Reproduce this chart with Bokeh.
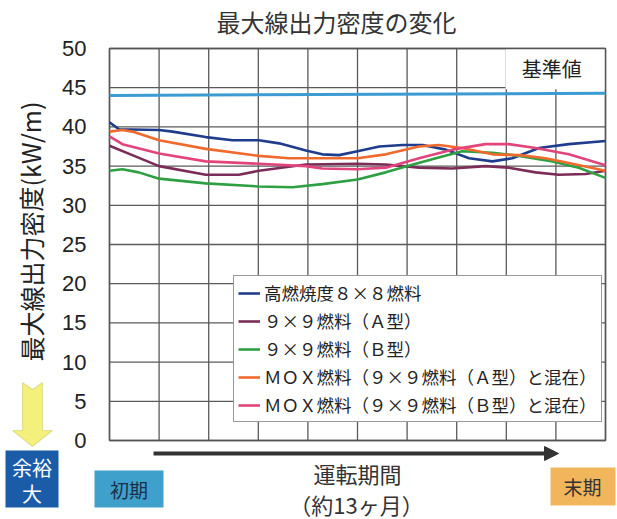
from bokeh.plotting import figure
from bokeh.models import (Range1d, FixedTicker, Label, Legend, LegendItem, Arrow,
                          NormalHead, PolyAnnotation)
from bokeh.embed import file_html
from bokeh.resources import INLINE

# ---- data (x = operating period, 10 grid divisions from start to end) ----
series_names = ["高燃焼度８×８燃料", "９×９燃料（Ａ型）", "９×９燃料（Ｂ型）",
                "ＭＯＸ燃料（９×９燃料（Ａ型）と混在）", "ＭＯＸ燃料（９×９燃料（Ｂ型）と混在）"]
series_colors = ["#1f3d8c", "#7b2c58", "#2ea043", "#f06a2e", "#e2447c"]

hb8_x = [0, 0.19, 1.0, 1.27, 1.94, 2.48, 3.01, 3.42, 3.96, 4.29, 4.63, 5.0, 5.44, 5.91, 6.31,
         6.78, 7.25, 7.72, 8.12, 8.66, 9.26, 10]
hb8_y = [40.6, 39.7, 39.6, 39.4, 38.7, 38.3, 38.3, 37.9, 37.0, 36.5, 36.4, 36.9, 37.5, 37.7, 37.7,
         37.1, 36.0, 35.6, 36.0, 37.3, 37.8, 38.2]

a99_x = [0, 0.46, 1.0, 1.94, 2.61, 3.01, 3.96, 5.0, 5.57, 6.24, 6.91, 7.58, 8.05, 8.59, 9.06, 9.6, 10]
a99_y = [37.6, 36.4, 35.0, 33.9, 33.9, 34.4, 35.2, 35.3, 35.2, 34.8, 34.7, 35.0, 34.8, 34.2, 33.9, 34.0, 34.4]

b99_x = [0, 0.26, 0.59, 1.0, 1.94, 3.01, 3.69, 4.29, 5.0, 5.57, 6.01, 6.58, 7.11, 7.72, 8.26, 8.93, 9.46, 10]
b99_y = [34.4, 34.6, 34.2, 33.4, 32.8, 32.4, 32.3, 32.7, 33.3, 34.2, 35.0, 36.0, 36.9, 36.7, 36.3, 35.6, 34.8, 33.5]

moxa_x = [0, 0.26, 0.46, 1.0, 1.94, 3.01, 3.62, 4.4, 5.0, 5.57, 6.24, 6.64, 7.11, 7.72, 8.26, 8.79, 9.26, 10]
moxa_y = [39.4, 39.6, 39.4, 38.3, 37.2, 36.3, 36.0, 36.0, 36.0, 36.5, 37.5, 37.7, 37.3, 36.5, 36.4, 36.0, 35.4, 34.4]

moxb_x = [0, 0.26, 1.0, 1.94, 3.01, 3.96, 4.29, 5.0, 5.57, 6.24, 6.91, 7.58, 8.05, 8.59, 9.26, 10]
moxb_y = [38.8, 37.8, 36.6, 35.6, 35.3, 35.0, 34.7, 34.6, 34.8, 36.0, 37.1, 37.8, 37.8, 37.3, 36.5, 35.1]

limit_x = [0, 10]
limit_y = [44.0, 44.3]

y_ticks = [0, 5, 10, 15, 20, 25, 30, 35, 40, 45, 50]
x_grid = [0, 1, 2, 3, 4, 5, 6, 7, 8, 9, 10]

JP = "Noto Sans CJK JP"
W, H = 617, 519
# plot area in the canvas: x 0..10 -> px 109..605, y 0..50 -> py 440..48
X0, XS = 109, 49.6
Y0, YS = 440, 7.84

p = figure(width=W, height=H, output_backend="svg", toolbar_location=None,
           x_range=Range1d(-X0 / XS, (W - X0) / XS),
           y_range=Range1d(-(H - Y0) / YS, Y0 / YS), min_border=0)
p.title.visible = False
p.background_fill_color = "white"
p.border_fill_color = "white"
p.outline_line_color = None
p.xaxis.visible = False
p.xgrid.visible = False
p.ygrid.visible = False

ya = p.yaxis[0]
ya.fixed_location = 0
ya.bounds = (0, 50)
ya.ticker = FixedTicker(ticks=y_ticks)
ya.axis_line_color = None
ya.major_tick_line_color = None
ya.minor_tick_line_color = None
ya.major_label_text_font = "Liberation Sans"
ya.major_label_text_font_size = "22px"
ya.major_label_text_color = "#222222"
ya.major_label_standoff = 17

GRID = "#5a5a5a"
p.segment(x0=x_grid, x1=x_grid, y0=[0] * len(x_grid), y1=[50] * len(x_grid),
          line_color=GRID, line_width=1.3)
p.segment(x0=[0] * len(y_ticks), x1=[10] * len(y_ticks), y0=y_ticks, y1=y_ticks,
          line_color=GRID, line_width=1.3)

# white box behind the reference label (hides grid there)
p.quad(left=[7.985], right=[10], bottom=[44.8], top=[50], fill_color="white", line_color=None)
# plot frame
p.quad(left=[0], right=[10], bottom=[0], top=[50], fill_color=None, line_color="#555555", line_width=1.5)

p.line(limit_x, limit_y, line_color="#3b9bd2", line_width=3)
p.add_layout(Label(x=9.52, y=47.4, text="基準値", text_font=JP, text_font_size="20px",
                   text_color="#222222", text_align="right", text_baseline="middle"))

renderers = []
for xs, ys, c in zip([hb8_x, a99_x, b99_x, moxa_x, moxb_x],
                     [hb8_y, a99_y, b99_y, moxa_y, moxb_y], series_colors):
    renderers.append(p.line(xs, ys, line_color=c, line_width=2.6, line_join="round"))

legend = Legend(items=[LegendItem(label=n, renderers=[r]) for n, r in zip(series_names, renderers)],
                location=(233, H - 422), label_text_font=JP, label_text_font_size="17.5px",
                label_text_color="#222222", glyph_width=22, glyph_height=22, label_height=22,
                spacing=3, padding=4, margin=0, label_standoff=4,
                border_line_color="#333333", border_line_width=1.2,
                background_fill_color="white", background_fill_alpha=1.0)
p.add_layout(legend, "center")


def cl(px, py, text, size, color="#333333", angle=0.0, align="center"):
    p.add_layout(Label(x=px, y=py, x_units="canvas", y_units="canvas", text=text,
                       text_font=JP, text_font_size=size, text_color=color, angle=angle,
                       text_align=align, text_baseline="middle"))


def cpoly(xs, ys, fill, line=None, lw=1.0):
    p.add_layout(PolyAnnotation(xs=list(xs), ys=list(ys), xs_units="canvas",
                                ys_units="canvas", fill_color=fill, fill_alpha=1.0,
                                line_color=line, line_width=lw))


# title and axis label
cl(336, 21, "最大線出力密度の変化", "24px")
cl(30, 231, "最大線出力密度(kW/m)", "25px", color="#222222", angle=1.5708)

# operating period arrow and labels
p.add_layout(Arrow(x_start=153, y_start=453, x_end=558, y_end=453,
                   start_units="canvas", end_units="canvas", line_color="#333333",
                   line_width=4, end=NormalHead(size=14, fill_color="#333333", line_color="#333333")))
cl(357, 472, "運転期間", "22px")
cl(356, 503, "（約13ヶ月）", "22px")

cpoly([94, 163, 163, 94], [470, 470, 507, 507], "#3fa0cc")
cl(128.5, 489, "初期", "19px", color="#1b2f4a")
cpoly([550, 615, 615, 550], [467, 467, 505, 505], "#f1b65c")
cl(582, 486, "末期", "19px")
cpoly([5, 58, 58, 5], [450, 450, 507, 507], "#1b5ca8")
cl(31.5, 467, "余裕", "20px", color="white")
cl(31.5, 493, "大", "20px", color="white")

# yellow down arrow
cpoly([22, 32, 42, 42, 52, 32, 12, 22], [382, 389, 382, 430, 430, 446, 430, 430],
      "#f3f17c", "#a8a83a", 1.2)

open("out.html", "w").write(file_html(p, INLINE))
